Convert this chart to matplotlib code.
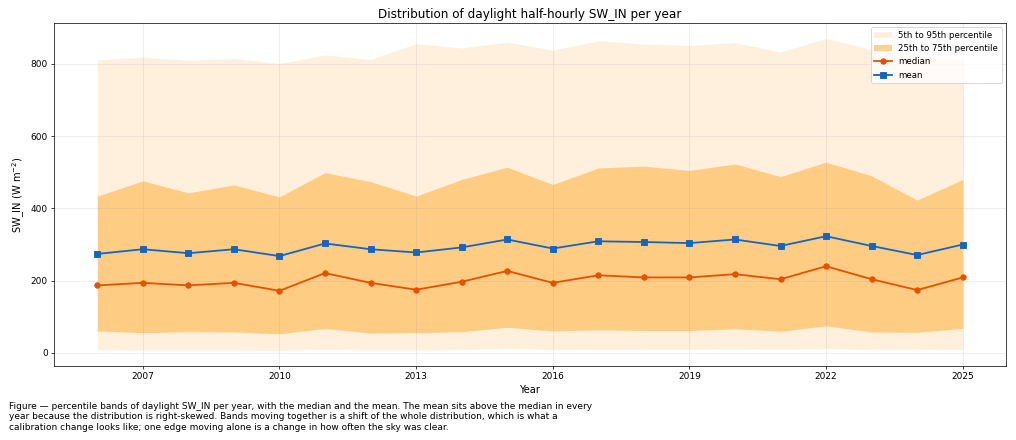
import matplotlib
matplotlib.use("Agg")
import matplotlib.pyplot as plt

years = list(range(2006, 2026))
p5 = [9, 8, 8, 8, 7, 10, 8, 8, 9, 13, 9, 10, 9, 10, 11, 10, 12, 9, 9, 10]
p25 = [61, 56, 59, 58, 53, 68, 55, 56, 59, 71, 61, 64, 62, 62, 67, 60, 75, 58, 57, 68]
median = [187, 194, 187, 194, 172, 221, 194, 175, 197, 227, 194, 215, 209, 209, 218, 204, 240, 204, 174, 209]
mean = [274, 287, 276, 287, 268, 303, 287, 278, 292, 314, 289, 309, 307, 304, 314, 296, 323, 296, 271, 300]
p75 = [434, 476, 443, 465, 432, 499, 474, 434, 480, 514, 466, 512, 517, 505, 523, 488, 528, 490, 423, 480]
p95 = [811, 819, 810, 815, 801, 825, 812, 856, 844, 860, 838, 864, 855, 851, 859, 833, 870, 840, 822, 810]

caption = ("Figure \u2014 percentile bands of daylight SW_IN per year, with the median and the mean. "
           "The mean sits above the median in every\n"
           "year because the distribution is right-skewed. Bands moving together is a shift of the whole "
           "distribution, which is what a\n"
           "calibration change looks like; one edge moving alone is a change in how often the sky was clear.")

fig = plt.figure(figsize=(1016 / 65, 440 / 65), dpi=65)
ax = fig.add_axes([54 / 1016, 1 - 366 / 440, (1006 - 54) / 1016, (366 - 23) / 440])

ax.fill_between(years, p5, p95, color="#FFE0BD", alpha=0.5, linewidth=0,
                label="5th to 95th percentile")
ax.fill_between(years, p25, p75, color="#FFB74D", alpha=0.62, linewidth=0,
                label="25th to 75th percentile")
ax.plot(years, median, color="#E65100", marker="o", linewidth=2, markersize=6, label="median")
ax.plot(years, mean, color="#1565C0", marker="s", linewidth=2, markersize=6, label="mean")

ax.set_xticks(list(range(2007, 2026, 3)))
ax.set_yticks([0, 200, 400, 600, 800])
ax.tick_params(labelsize=10)
ax.grid(True, alpha=0.3)
ax.set_xlabel("Year", fontsize=11)
ax.set_ylabel("SW_IN (W m$^{-2}$)", fontsize=11)
ax.set_title("Distribution of daylight half-hourly SW_IN per year", fontsize=13.3)
ax.legend(loc="upper right", fontsize=9.5)

fig.text(9 / 1016, 1 - 402 / 440, caption, ha="left", va="top", fontsize=10)

fig.savefig("out.png", dpi=65)
